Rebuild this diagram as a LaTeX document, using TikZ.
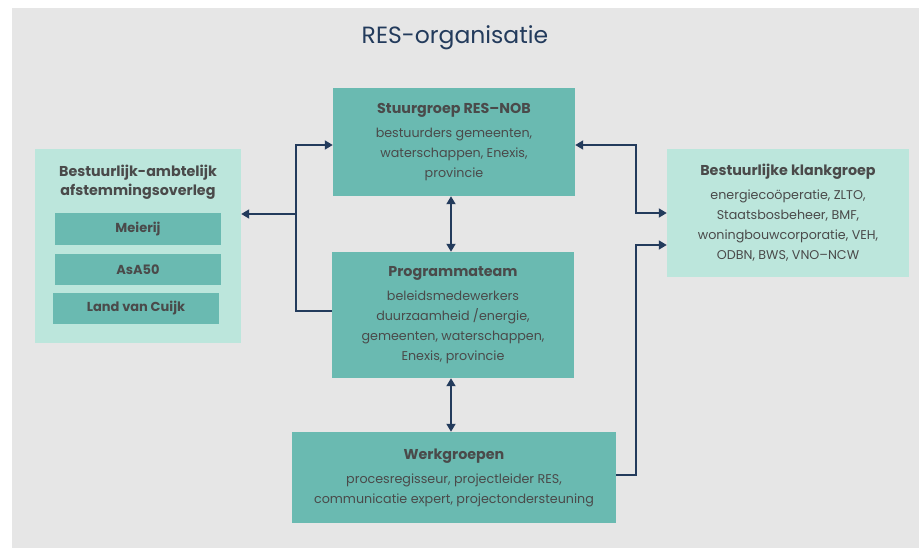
\documentclass[tikz,border=0pt]{standalone}
\usepackage{fontspec}
\setmainfont{Poppins}
\usetikzlibrary{arrows.meta}
\definecolor{bg}{HTML}{E6E6E6}
\definecolor{teal}{HTML}{6ABAB1}
\definecolor{mint}{HTML}{BCE6DC}
\definecolor{navy}{HTML}{233B5C}
\definecolor{txt}{HTML}{4A4A4A}
\newcommand{\hdfont}{\bfseries\fontsize{14.3}{19}\selectfont}
\begin{document}
\begin{tikzpicture}[x=1pt,y=-1pt,
  box/.style = {fill=teal, inner sep=0pt, align=center, text=txt, font=\fontsize{12.7}{20}\selectfont},
  light/.style = {box, fill=mint},
  sub/.style = {fill=teal, inner sep=0pt, minimum width=166pt, text=txt, font=\bfseries\fontsize{13}{15}\selectfont},
  tip/.style = {{Triangle[width=9pt,length=8pt]}-{Triangle[width=9pt,length=8pt]}},
  con/.style = {draw=navy, line width=1.8pt, -{Triangle[width=9pt,length=8pt]}}]
        \useasboundingbox (0,0) rectangle (919,548);
        \fill[bg] (12,8) rectangle (919,548);
        \node (title) [text=navy, font=\fontsize{23.5}{28}\selectfont] at (455,38) {RES-organisatie};
        \node[box, minimum width=242pt, minimum height=108pt] (stuur) at (454,142)
          {{\hdfont Stuurgroep RES--NOB}\\[4pt]bestuurders gemeenten,\\waterschappen, Enexis,\\provincie};
        \node[box, minimum width=242pt, minimum height=126pt] (prog) at (453,315)
          {{\hdfont Programmateam}\\[4pt]beleidsmedewerkers\\duurzaamheid /energie,\\gemeenten, waterschappen,\\Enexis, provincie};
        \node[box, minimum width=324pt, minimum height=91pt] (werk) at (454,477.5)
          {{\hdfont Werkgroepen}\\[4pt]procesregisseur, projectleider RES,\\communicatie expert, projectondersteuning};
        \node[light, minimum width=242pt, minimum height=128pt] (klank) at (788,213)
          {{\hdfont Bestuurlijke klankgroep}\\[4pt]energiecoöperatie, ZLTO,\\Staatsbosbeheer, BMF,\\woningbouwcorporatie, VEH,\\ODBN, BWS, VNO--NCW};
        \node[light, minimum width=206pt, minimum height=194pt] (overleg) at (138,246) {};
        \node[text=txt, align=center, font=\hdfont] (ovtitle) at (138,182) {Bestuurlijk-ambtelijk\\afstemmingsoverleg};
        \node[sub, minimum height=32pt] (meierij) at (138,229) {Meierij};
        \node[sub, minimum height=31pt] (asa) at (138,269.5) {AsA50};
        \node[sub, minimum height=31pt] (cuijk) at (136,308.5) {Land van Cuijk};
        \coordinate (jl) at (296,214);
        \coordinate (jr) at (636,245);
        \draw[con, tip] ([xshift=-3pt]stuur.south) -- ([xshift=-2pt]prog.north);
        \draw[con, tip] ([xshift=-2pt]prog.south) -- ([xshift=-2pt]prog.south |- werk.north);
        \draw[con] ([yshift=4pt]prog.west) -| (jl) |- ([yshift=-3pt]stuur.west);
        \draw[con] (jl) -- (jl -| overleg.east);
        \draw[con, tip] ([yshift=-3pt]stuur.east) -| (jr |- klank.west) -- (klank.west);
        \draw[con] ([yshift=2.5pt]werk.east) -| (jr) -- (jr -| klank.west);
\end{tikzpicture}
\end{document}
